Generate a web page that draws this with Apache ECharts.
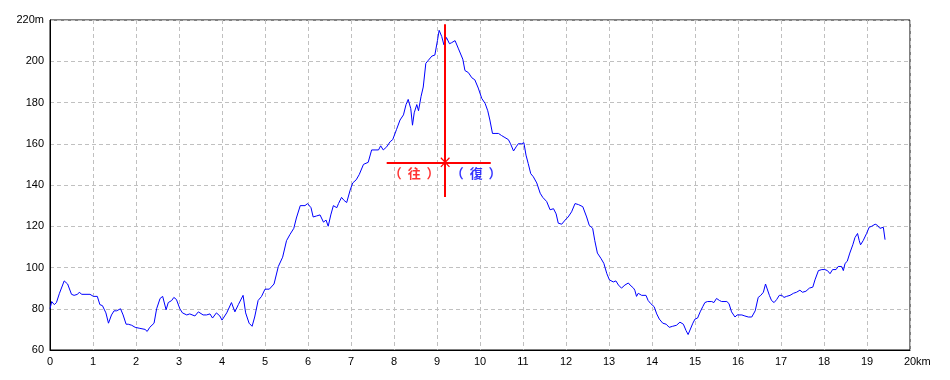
<!DOCTYPE html>
<html>
<head>
<meta charset="utf-8">
<script src="https://cdn.jsdelivr.net/npm/echarts@6/dist/echarts.min.js"></script>
<style>html,body{margin:0;padding:0;background:#fff;}#c{width:950px;height:380px;}</style>
</head>
<body>
<div id="c"></div>
<script>
const distKm = [
 0.00,0.04,0.10,0.15,0.22,0.33,0.41,0.50,0.56,0.64,
 0.68,0.74,0.93,1.01,1.10,1.16,1.22,1.30,1.36,1.43,
 1.49,1.55,1.64,1.70,1.77,1.82,1.90,1.98,2.09,2.21,
 2.26,2.32,2.42,2.48,2.56,2.62,2.70,2.75,2.83,2.88,
 2.94,3.02,3.08,3.18,3.25,3.37,3.45,3.56,3.64,3.72,
 3.78,3.87,3.95,4.00,4.11,4.22,4.30,4.38,4.49,4.55,
 4.63,4.70,4.76,4.84,4.92,5.00,5.10,5.21,5.31,5.41,
 5.50,5.58,5.67,5.73,5.82,5.93,5.99,6.07,6.12,6.20,
 6.28,6.36,6.42,6.47,6.53,6.59,6.67,6.71,6.78,6.84,
 6.90,6.98,7.04,7.12,7.19,7.29,7.40,7.48,7.58,7.64,
 7.69,7.75,7.83,7.91,7.97,8.06,8.14,8.22,8.28,8.33,
 8.39,8.43,8.47,8.53,8.57,8.63,8.68,8.74,8.80,8.88,
 8.95,9.01,9.05,9.11,9.16,9.22,9.29,9.34,9.42,9.50,
 9.60,9.65,9.73,9.81,9.88,9.96,10.04,10.12,10.18,10.23,
 10.29,10.35,10.43,10.50,10.58,10.66,10.71,10.78,10.84,10.89,
 10.97,11.02,11.07,11.12,11.18,11.24,11.32,11.40,11.46,11.55,
 11.63,11.71,11.77,11.82,11.90,11.98,12.05,12.13,12.21,12.29,
 12.39,12.48,12.54,12.62,12.67,12.73,12.81,12.88,12.95,13.01,
 13.10,13.16,13.22,13.29,13.37,13.45,
 13.49,13.57,13.60,13.64,13.68,13.76,13.86,13.91,13.97,14.05,
 14.11,14.17,14.25,14.33,14.40,14.48,14.57,14.65,14.73,14.79,
 14.84,14.88,14.95,15.00,15.06,15.12,15.18,15.23,15.29,15.39,
 15.44,15.50,15.57,15.62,15.66,15.74,15.79,15.85,15.93,15.98,
 16.09,16.16,16.24,16.32,16.40,16.47,16.53,16.59,16.64,16.68,
 16.73,16.78,16.84,16.90,16.96,17.02,17.07,17.13,17.21,17.29,
 17.36,17.44,17.50,17.58,17.66,17.74,17.79,17.87,17.95,18.02,
 18.08,18.14,18.20,18.28,18.33,18.41,18.45,18.49,18.54,18.60,
 18.67,18.72,18.78,18.82,18.85,18.91,18.99,19.05,19.11,19.19,
 19.24,19.30,19.38,19.42
];
const elevM = [
 80,83.5,82,83,87.5,93.5,92,87,86.5,87,
 88,87,87,86,86,82,81.5,78,73,77,
 79,79,80,77,72.5,72.5,72,71,70.5,70,
 69,71,73,80,85,86,79.5,83,84,85.5,
 84.5,80,78,77,77.5,76.5,78.5,77,77,77.5,
 75.5,78,76.5,74.5,78,83,78.5,82,86.5,78,
 73,71.5,76,84,86,89.5,89.5,92,100.5,105,
 113,116,119,124,130,130,131,129,124.5,125,
 125.5,122,123,120,125.5,130,129,131,134,132.5,
 131.5,137.5,141,142.5,145,150,151,157,157,157,
 159,157,158.5,161,162,167,171.5,174,179,181.5,
 177,169,175,179,176,183,187.5,199,200.5,202.5,
 203,210,215,212,208,211.5,208.5,209,210,206,
 201,195.5,194.5,192,191,187,182,179.5,176,171.5,
 165,165,165,164,163,162,160,156.5,158.5,160,
 160,160.5,154.5,150.5,145.5,144,141,136,134,132,
 128,128.5,126,121.5,121,123,124.5,127,131,130.5,
 129.5,124.5,120.5,119,113,107,104.5,102,97,94,
 93,93.5,91.5,90,91.5,92.5,
 91.5,90,89,86,87.5,86.5,86.5,84,82.5,81,
 77.5,75,73,72.5,71,71.5,72,73.5,72.5,69.5,
 67.5,68,73,75,75.5,78.5,81,83,83.5,83.5,
 83,85,84,83.5,84,83.5,82.5,78.5,76,77,
 77,76.5,76,76,79,85.5,86.5,88,92,91.5,
 86.5,84,83,84.5,86.5,86.5,85.5,86,86.5,87.5,
 88,89,88,88.5,90,90.5,94,98.5,99,99,
 98.5,97,99,99,100.5,100.5,98.5,102,103,107,
 111,114.5,116.5,113,111,113,116.5,119.5,120,121,
 120.5,119,119.5,113.5
];
// turnaround marker (km, m)
const turnKm = 9.19;
const turnElev = 151;
const crossVertical = [218, 134.2];   // elevation range of vertical red line
const crossHorizontal = [7.83, 10.25]; // distance range of horizontal red line
const labelOut = '（  往  ）';
const labelBack = '（  復  ）';
const labelOutPos = [8.47, 145.8];
const labelBackPos = [9.91, 145.8];
const xUnit = 'km', yUnit = 'm';

const profile = distKm.map((d, i) => [d, elevM[i]]);

const axisFont = '"Liberation Sans",Arial,sans-serif';
const chart = echarts.init(document.getElementById('c'), null, {renderer: 'canvas'});
chart.setOption({
  animation: false,
  backgroundColor: '#fff',
  grid: {left: 50, right: 40, top: 20, bottom: 30, show: true, borderColor: '#000', borderWidth: 1, containLabel: false},
  xAxis: {
    type: 'value', min: 0, max: 20, interval: 1,
    axisLine: {show: true, lineStyle: {color: '#000', width: 1}},
    axisTick: {show: false},
    splitLine: {show: true, lineStyle: {color: '#c0c0c0', type: [4, 3], width: 1}},
    axisLabel: {
      color: '#000', fontSize: 11, fontFamily: axisFont, margin: 6,
      formatter: v => v === 20 ? '{h|' + xUnit + '}' + v + xUnit : String(v),
      rich: {h: {color: 'transparent', fontSize: 11, fontFamily: axisFont}}
    }
  },
  yAxis: {
    type: 'value', min: 60, max: 220, interval: 20,
    axisLine: {show: true, lineStyle: {color: '#000', width: 1}},
    axisTick: {show: false},
    splitLine: {show: true, lineStyle: {color: '#c0c0c0', type: [4, 3], width: 1}},
    axisLabel: {
      color: '#000', fontSize: 11, fontFamily: axisFont, margin: 6,
      formatter: v => v === 220 ? v + yUnit : String(v)
    }
  },
  series: [
    {
      type: 'line', data: profile, showSymbol: false, symbol: 'none',
      lineStyle: {color: '#0000ff', width: 1}, smooth: false, silent: true,
      z: 3
    },
    {
      type: 'line', data: [], silent: true, z: 4,
      markLine: {
        silent: true, symbol: ['none', 'none'], label: {show: false},
        data: [
          [{coord: [turnKm, crossVertical[0]], lineStyle: {color: '#ff0000', width: 2, type: 'solid'}},
           {coord: [turnKm, crossVertical[1]]}],
          [{coord: [crossHorizontal[0], turnElev], lineStyle: {color: '#ff0000', width: 2, type: 'solid'}},
           {coord: [crossHorizontal[1], turnElev]}],
          [{coord: [turnKm - 0.1, turnElev + 2.2], lineStyle: {color: '#ff0000', width: 1.2, type: 'solid'}},
           {coord: [turnKm + 0.1, turnElev - 2.2]}],
          [{coord: [turnKm - 0.1, turnElev - 2.2], lineStyle: {color: '#ff0000', width: 1.2, type: 'solid'}},
           {coord: [turnKm + 0.1, turnElev + 2.2]}]
        ]
      }
    },
    {
      type: 'scatter', symbolSize: 0, silent: true, z: 5,
      data: [
        {value: labelOutPos, name: labelOut, label: {color: '#ff0000'}},
        {value: labelBackPos, name: labelBack, label: {color: '#0000ff'}}
      ],
      label: {
        show: true, position: 'inside', formatter: p => p.name,
        fontSize: 13, fontWeight: 'bold', fontFamily: '"Noto Sans CJK JP",sans-serif'
      }
    }
  ]
});
</script>
</body>
</html>
